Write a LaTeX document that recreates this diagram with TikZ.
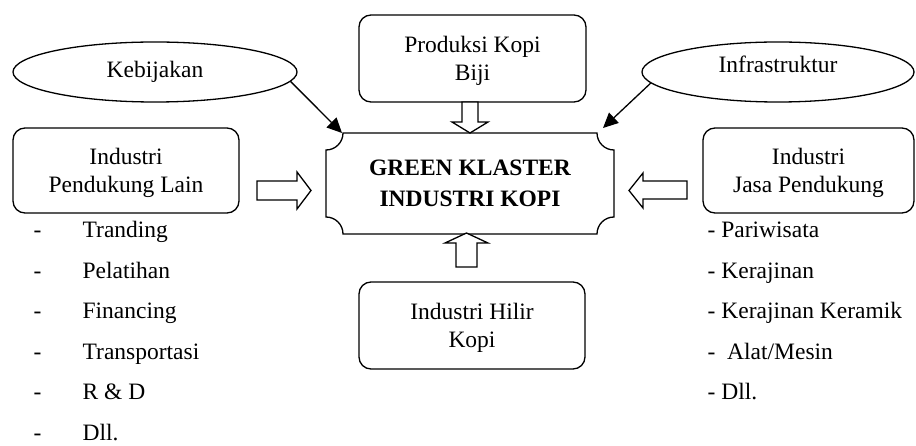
\documentclass[tikz,border=0pt]{standalone}
\usepackage{fontspec}
\setmainfont{Liberation Serif}
\usetikzlibrary{arrows.meta,shapes.geometric}
\newcommand{\lowtop}{\rule{0pt}{21pt}}
\begin{document}
\begin{tikzpicture}[x=1pt,y=-1pt, line width=1.3pt,
  txt/.style={font=\fontsize{23.5}{28}\selectfont},
  rbox/.style={draw, rounded corners=12pt, inner sep=0pt, align=center, txt},
  ell/.style={draw, ellipse, inner sep=0pt, txt},
  conn/.style={-{Triangle[length=15pt,width=14pt]}, line width=1.3pt},
  blk/.style={draw, fill=white, line width=1.3pt, line join=miter},
  item/.style={txt, anchor=base west, inner sep=0pt}]
\useasboundingbox (0,0) rectangle (916,446);

% boxes
\node[rbox, minimum width=227pt, minimum height=87pt] (prod) at (472.5,58.5) {\lowtop Produksi Kopi\\Biji};
\node[rbox, minimum width=226pt, minimum height=85pt] (pend) at (126,170.5) {\lowtop Industri\\Pendukung Lain};
\node[rbox, minimum width=211pt, minimum height=85pt] (jasa) at (808.5,170.5) {\lowtop Industri\\Jasa Pendukung};
\node[rbox, minimum width=226pt, minimum height=87pt] (hilir) at (472,325.5) {\lowtop Industri Hilir\\Kopi};

% ellipses
\node[ell, minimum width=284pt, minimum height=60pt] (keb) at (155,72) {Kebijakan};
\node[ell, minimum width=272pt, minimum height=60pt,
      label={[txt, yshift=8pt]center:Infrastruktur}] (infra) at (778,72) {};

% main plaque
\node[font={\fontsize{23.5}{31}\selectfont\bfseries}, align=center, inner sep=0pt,
      minimum width=288pt, minimum height=101pt] (main) at (470,183.5) {GREEN KLASTER\\INDUSTRI KOPI};
\draw (343,133) -- (597,133) .. controls (597,142.4) and (604.6,150) .. (614,150)
  -- (614,217) .. controls (604.6,217) and (597,224.6) .. (597,234)
  -- (343,234) .. controls (343,224.6) and (335.4,217) .. (326,217)
  -- (326,150) .. controls (335.4,150) and (343,142.4) .. cycle;

% thin connectors
\coordinate (ta) at (342,133);
\coordinate (tb) at (603,128);
\draw[conn] (keb.-4) -- (ta);
\draw[conn] (infra.185) -- (tb);

% block arrows
\draw[blk] (462,102) -- (478,102) -- (478,122) -- (488,122) -- (470,133) -- (452,122) -- (462,122) -- cycle;
\draw[blk] (456,267) -- (477,267) -- (477,243) -- (488,243) -- (466.5,233) -- (445,243) -- (456,243) -- cycle;
\draw[blk] (257,181) -- (297,181) -- (297,172) -- (311,190.5) -- (297,209) -- (297,200) -- (257,200) -- cycle;
\draw[blk] (687,181) -- (643,181) -- (643,173) -- (629,190.5) -- (643,208) -- (643,199) -- (687,199) -- cycle;

% left list
\foreach \t [count=\i from 0] in {Tranding,Pelatihan,Financing,Transportasi,R \& D,Dll.}{
  \node[item] (ld\i) at (33,238+40.4*\i) {-};
  \node[item] (lt\i) at (82,238+40.4*\i) {\t};
}
% right list
\node[item] (r0) at (707,238) {- Pariwisata};
\node[item] (r1) at (707,278.4) {- Kerajinan};
\node[item] (r2) at (707,318.8) {- Kerajinan Keramik};
\node[item] (r3) at (707,359.2) {- \ Alat/Mesin};
\node[item] (r4) at (707,399.6) {- Dll.};
\end{tikzpicture}
\end{document}
